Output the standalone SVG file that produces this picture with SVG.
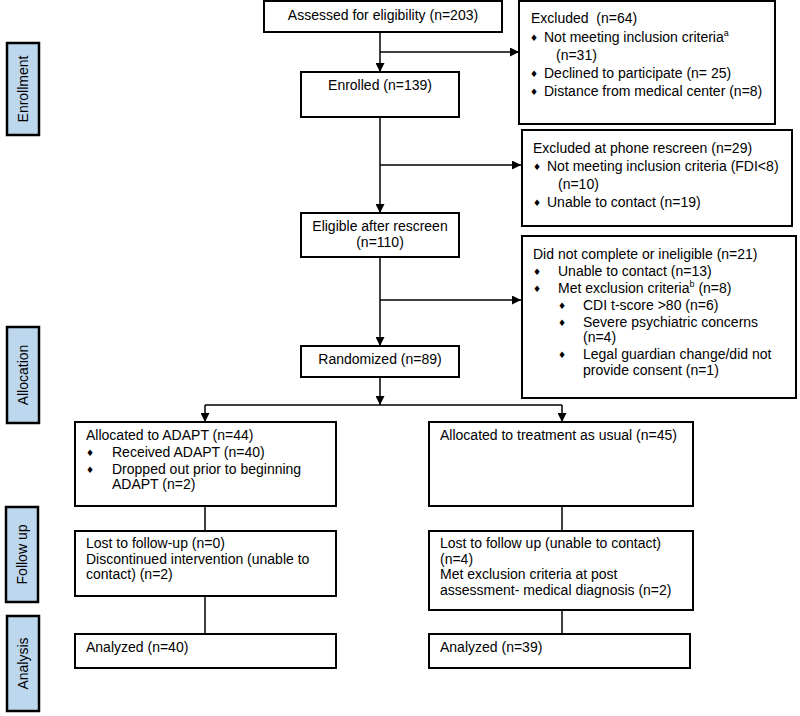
<svg xmlns="http://www.w3.org/2000/svg" width="800" height="716" viewBox="0 0 800 716">
<style>
text{font-family:"Liberation Sans",Arial,sans-serif;font-size:14px;fill:#000}
.box{fill:#fff;stroke:#000;stroke-width:2}
.side{fill:#bdd7ee;stroke:#000;stroke-width:2.5}
.c{text-anchor:middle}
.bul{font-family:"DejaVu Sans",sans-serif;font-size:9px;text-anchor:middle}
.ln{fill:none;stroke:#000;stroke-width:1.5}
.sup{font-size:9px}
</style>
<defs>
<marker id="ah" viewBox="0 0 10 10" refX="10" refY="5" markerWidth="9" markerHeight="9" markerUnits="userSpaceOnUse" orient="auto">
<path d="M0,0 L10,5 L0,10 z" fill="#000"/>
</marker>
</defs>
<rect width="800" height="716" fill="#fff"/>

<g id="label-enrollment"><rect class="side" x="7" y="43" width="32" height="92"/><text class="c" transform="translate(28,89) rotate(-90)">Enrollment</text></g>
<g id="label-allocation"><rect class="side" x="7" y="327" width="32" height="96"/><text class="c" transform="translate(28,375) rotate(-90)">Allocation</text></g>
<g id="label-followup"><rect class="side" x="6" y="507" width="32" height="95"/><text class="c" transform="translate(27,554.5) rotate(-90)">Follow up</text></g>
<g id="label-analysis"><rect class="side" x="7" y="616" width="32" height="95"/><text class="c" transform="translate(28,663.5) rotate(-90)">Analysis</text></g>

<g id="connectors">
<line class="ln" x1="380" y1="32" x2="380" y2="72" marker-end="url(#ah)"/>
<line class="ln" x1="380" y1="52" x2="519" y2="52" marker-end="url(#ah)"/>
<line class="ln" x1="380" y1="117" x2="380" y2="213" marker-end="url(#ah)"/>
<line class="ln" x1="380" y1="165" x2="521" y2="165" marker-end="url(#ah)"/>
<line class="ln" x1="380" y1="257" x2="380" y2="346" marker-end="url(#ah)"/>
<line class="ln" x1="380" y1="300" x2="521" y2="300" marker-end="url(#ah)"/>
<line class="ln" x1="380" y1="377" x2="380" y2="405" marker-end="url(#ah)"/>
<line class="ln" x1="205" y1="405" x2="562" y2="405" stroke-width="1"/>
<line class="ln" x1="205" y1="405" x2="205" y2="422" marker-end="url(#ah)"/>
<line class="ln" x1="562" y1="405" x2="562" y2="422" marker-end="url(#ah)"/>
<line class="ln" x1="205" y1="506" x2="205" y2="531"/>
<line class="ln" x1="205" y1="596" x2="205" y2="634"/>
<line class="ln" x1="562" y1="506" x2="562" y2="531"/>
<line class="ln" x1="562" y1="610" x2="562" y2="634"/>
</g>

<g id="assessed"><rect class="box" x="264" y="1" width="238" height="31"/><text class="c" x="383" y="20">Assessed for eligibility (n=203)</text></g>

<g id="excluded1"><rect class="box" x="519" y="1" width="256" height="123"/>
<text x="531" y="23" xml:space="preserve">Excluded  (n=64)</text>
<text class="bul" x="534" y="41">♦</text><text x="544" y="42">Not meeting inclusion criteria<tspan class="sup" dy="-6">a</tspan></text>
<text x="556" y="60">(n=31)</text>
<text class="bul" x="534" y="77">♦</text><text x="544" y="78">Declined to participate (n= 25)</text>
<text class="bul" x="534" y="95">♦</text><text x="544" y="96">Distance from medical center (n=8)</text>
</g>

<g id="enrolled"><rect class="box" x="301" y="72" width="158" height="45"/><text class="c" x="380" y="90">Enrolled (n=139)</text></g>

<g id="excluded2"><rect class="box" x="522" y="130" width="270" height="96"/>
<text x="533" y="153">Excluded at phone rescreen (n=29)</text>
<text class="bul" x="537" y="170">♦</text><text x="547" y="171">Not meeting inclusion criteria (FDI&lt;8</text><text x="774" y="171">)</text>
<text x="558" y="189">(n=10)</text>
<text class="bul" x="537" y="206">♦</text><text x="547" y="207">Unable to contact (n=19)</text>
</g>

<g id="eligible"><rect class="box" x="301" y="213" width="158" height="44"/><text class="c" x="380" y="231">Eligible after rescreen</text><text class="c" x="380" y="247">(n=110)</text></g>

<g id="excluded3"><rect class="box" x="522" y="236" width="274" height="162"/>
<text x="533" y="259">Did not complete or ineligible (n=21)</text>
<text class="bul" x="537" y="275">♦</text><text x="558" y="276">Unable to contact (n=13)</text>
<text class="bul" x="537" y="292">♦</text><text x="558" y="293">Met exclusion criteria<tspan class="sup" dy="-6">b</tspan><tspan dy="6"> (n=8)</tspan></text>
<text class="bul" x="562" y="309">♦</text><text x="583" y="310">CDI t-score &gt;80 (n=6)</text>
<text class="bul" x="562" y="326">♦</text><text x="583" y="327">Severe psychiatric concerns</text>
<text x="583" y="342">(n=4)</text>
<text class="bul" x="562" y="358">♦</text><text x="583" y="359">Legal guardian change/did not</text>
<text x="583" y="375">provide consent (n=1)</text>
</g>

<g id="randomized"><rect class="box" x="301" y="346" width="158" height="31"/><text class="c" x="380" y="364">Randomized (n=89)</text></g>

<g id="alloc-adapt"><rect class="box" x="75" y="422" width="261" height="84"/>
<text x="86" y="440">Allocated to ADAPT (n=44)</text>
<text class="bul" x="90" y="456">♦</text><text x="112" y="457">Received ADAPT (n=40)</text>
<text class="bul" x="90" y="473">♦</text><text x="112" y="474">Dropped out prior to beginning</text>
<text x="112" y="489">ADAPT (n=2)</text>
</g>

<g id="alloc-tau"><rect class="box" x="429" y="422" width="264" height="84"/>
<text x="440" y="440">Allocated to treatment as usual (n=45)</text>
</g>

<g id="followup-adapt"><rect class="box" x="75" y="531" width="261" height="65"/>
<text x="86" y="548">Lost to follow-up (n=0)</text>
<text x="86" y="564">Discontinued intervention (unable to</text>
<text x="86" y="579">contact) (n=2)</text>
</g>

<g id="followup-tau"><rect class="box" x="429" y="531" width="264" height="79"/>
<text x="440" y="548">Lost to follow up (unable to contact)</text>
<text x="440" y="564">(n=4)</text>
<text x="440" y="579">Met exclusion criteria at post</text>
<text x="440" y="595">assessment- medical diagnosis (n=2)</text>
</g>

<g id="analyzed-adapt"><rect class="box" x="75" y="634" width="261" height="34"/><text x="86" y="652">Analyzed (n=40)</text></g>
<g id="analyzed-tau"><rect class="box" x="429" y="634" width="261" height="34"/><text x="440" y="652">Analyzed (n=39)</text></g>
</svg>
